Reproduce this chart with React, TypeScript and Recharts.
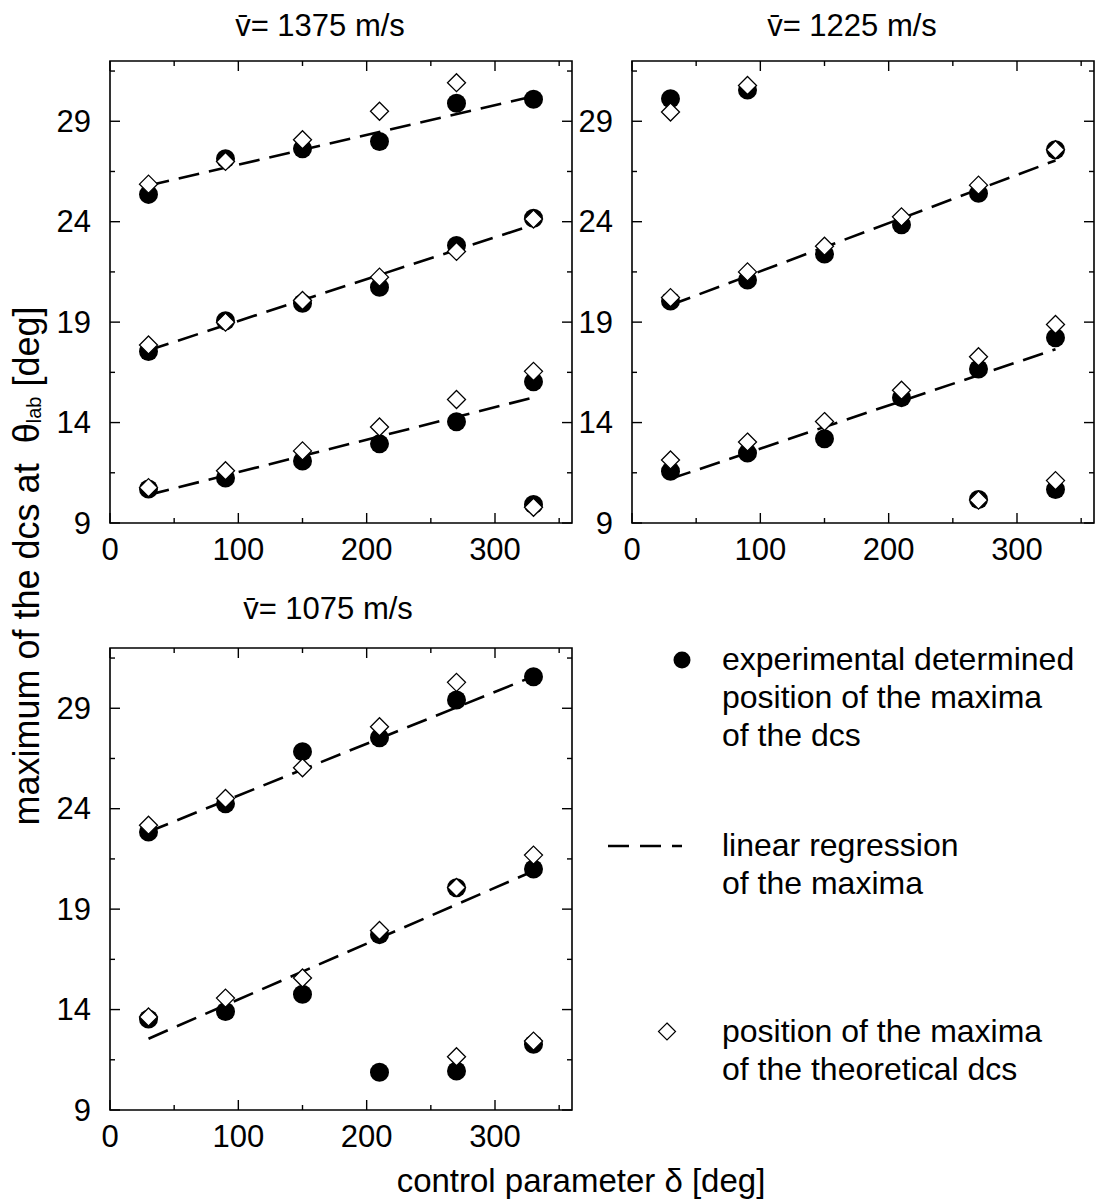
import React from "react";
import { ComposedChart, XAxis, YAxis, Scatter, Line, ReferenceArea } from "recharts";

// x positions of the measurements (control parameter delta, deg)
const delta = [30, 90, 150, 210, 270, 330];
const regDelta = [30, 330];

const xTicks = [0, 50, 100, 150, 200, 250, 300, 350];
const xMajor = [0, 100, 200, 300];
const yTicks = [9, 11.5, 14, 16.5, 19, 21.5, 24, 26.5, 29, 31.5];
const yMajor = [9, 14, 19, 24, 29];

// v = 1375 m/s
const exp1375a = [25.36, 27.13, 27.63, 27.99, 29.9, 30.1];
const theo1375a = [25.87, 27.0, 28.08, 29.5, 30.92, null];
const exp1375b = [17.54, 19.07, 19.94, 20.74, 22.82, 24.17];
const theo1375b = [17.86, 19.0, 20.08, 21.24, 22.52, 24.13];
const exp1375c = [10.69, 11.24, 12.09, 12.94, 14.04, 16.03];
const theo1375c = [10.76, 11.6, 12.59, 13.78, 15.15, 16.55];
const delta1375d = [330];
const exp1375d = [9.92];
const theo1375d = [9.78];
const reg1375 = [[25.8, 30.24], [17.6, 23.85], [10.4, 15.25]];

// v = 1225 m/s
const delta1225a = [30, 90];
const exp1225a = [30.12, 30.56];
const theo1225a = [29.46, 30.78];
const exp1225b = [20.05, 21.1, 22.39, 23.85, 25.41, 27.58];
const theo1225b = [20.22, 21.5, 22.78, 24.24, 25.82, 27.58];
const exp1225c = [11.58, 12.48, 13.19, 15.24, 16.67, 18.22];
const theo1225c = [12.14, 13.03, 14.05, 15.61, 17.28, 18.88];
const delta1225d = [270, 330];
const exp1225d = [10.17, 10.67];
const theo1225d = [10.14, 11.11];
const reg1225 = [[19.85, 27.05], [11.2, 17.65]];

// v = 1075 m/s
const exp1075a = [22.84, 24.24, 26.84, 27.53, 29.41, 30.57];
const theo1075a = [23.18, 24.51, 26.04, 28.08, 30.29, null];
const exp1075b = [13.53, 13.9, 14.76, 17.73, 20.06, 21.0];
const theo1075b = [13.63, 14.57, 15.57, 17.94, 20.08, 21.69];
const delta1075c = [210, 270, 330];
const exp1075c = [10.88, 10.94, 12.27];
const theo1075c = [null, 11.65, 12.43];
const reg1075 = [[22.85, 30.59], [12.55, 20.9]];

const FONT = '"Liberation Sans", Arial, Helvetica, sans-serif';
const PW = 462;
const PH = 462;

type Pt = { x: number; y: number };

const pts = (xs: number[], ys: (number | null)[]): Pt[] =>
  xs.flatMap((x, i) => (ys[i] == null ? [] : [{ x, y: ys[i] as number }]));

const XTick = (p: any) => {
  const v = p.payload.value;
  const len = xMajor.includes(v) ? 10 : 5;
  return (
    <g>
      <line x1={p.x} y1={p.y} x2={p.x} y2={p.y - len} stroke="#000" strokeWidth={1.4} />
      <line x1={p.x} y1={p.y - PH} x2={p.x} y2={p.y - PH + len} stroke="#000" strokeWidth={1.4} />
      {xMajor.includes(v) && (
        <text x={p.x} y={p.y + 26} textAnchor="middle" dominantBaseline="central" fontSize={31} fontFamily={FONT} fill="#000">
          {v}
        </text>
      )}
    </g>
  );
};

const YTick = (p: any) => {
  const v = p.payload.value;
  const len = yMajor.includes(v) ? 10 : 5;
  return (
    <g>
      <line x1={p.x} y1={p.y} x2={p.x + len} y2={p.y} stroke="#000" strokeWidth={1.4} />
      <line x1={p.x + PW} y1={p.y} x2={p.x + PW - len} y2={p.y} stroke="#000" strokeWidth={1.4} />
      {yMajor.includes(v) && (
        <text x={p.x - 19} y={p.y} textAnchor="end" dominantBaseline="central" fontSize={31} fontFamily={FONT} fill="#000">
          {v}
        </text>
      )}
    </g>
  );
};

const Dot = (p: any) => <circle cx={p.cx} cy={p.cy} r={9.5} fill="#000" />;
const Diamond = (p: any) => (
  <path
    d={`M${p.cx},${p.cy - 9}L${p.cx + 9},${p.cy}L${p.cx},${p.cy + 9}L${p.cx - 9},${p.cy}Z`}
    fill="#fff"
    stroke="#000"
    strokeWidth={1.3}
  />
);

function Panel({ left, top, exp, theo, reg }: { left: number; top: number; exp: Pt[]; theo: Pt[]; reg: number[][] }) {
  return (
    <div style={{ position: "absolute", left: left - 80, top: top - 10 }}>
      <ComposedChart width={80 + PW + 20} height={10 + PH + 50} margin={{ top: 10, right: 20, bottom: 0, left: 0 }}>
        <XAxis
          type="number"
          dataKey="x"
          domain={[0, 360]}
          ticks={xTicks}
          interval={0}
          tick={XTick}
          tickLine={false}
          axisLine={false}
          tickSize={0}
          tickMargin={0}
          height={50}
          allowDataOverflow
        />
        <YAxis
          type="number"
          dataKey="y"
          domain={[9, 32]}
          ticks={yTicks}
          interval={0}
          tick={YTick}
          tickLine={false}
          axisLine={false}
          tickSize={0}
          tickMargin={0}
          width={80}
          allowDataOverflow
        />
        <ReferenceArea x1={0} x2={360} y1={9} y2={32} fill="none" stroke="#000" strokeWidth={1.6} ifOverflow="visible" />
        {reg.map((r, i) => (
          <Line
            key={i}
            data={pts(regDelta, r)}
            dataKey="y"
            stroke="#000"
            strokeWidth={2.6}
            strokeDasharray="21 10"
            dot={false}
            activeDot={false}
            isAnimationActive={false}
          />
        ))}
        <Scatter data={exp} shape={Dot} isAnimationActive={false} />
        <Scatter data={theo} shape={Diamond} isAnimationActive={false} />
      </ComposedChart>
    </div>
  );
}

export default function App() {
  const exp1375 = [...pts(delta, exp1375a), ...pts(delta, exp1375b), ...pts(delta, exp1375c), ...pts(delta1375d, exp1375d)];
  const theo1375 = [...pts(delta, theo1375a), ...pts(delta, theo1375b), ...pts(delta, theo1375c), ...pts(delta1375d, theo1375d)];
  const exp1225 = [...pts(delta1225a, exp1225a), ...pts(delta, exp1225b), ...pts(delta, exp1225c), ...pts(delta1225d, exp1225d)];
  const theo1225 = [...pts(delta1225a, theo1225a), ...pts(delta, theo1225b), ...pts(delta, theo1225c), ...pts(delta1225d, theo1225d)];
  const exp1075 = [...pts(delta, exp1075a), ...pts(delta, exp1075b), ...pts(delta1075c, exp1075c)];
  const theo1075 = [...pts(delta, theo1075a), ...pts(delta, theo1075b), ...pts(delta1075c, theo1075c)];

  const txt = { fontSize: 31, fontFamily: FONT, fill: "#000" };
  const legTxt = { fontSize: 32, fontFamily: FONT, fill: "#000" };
  const axisTxt = { fontSize: 33, fontFamily: FONT, fill: "#000" };

  return (
    <div style={{ position: "absolute", left: 0, top: 0, width: 1096, height: 1202, background: "#fff" }}>
      <Panel left={110} top={61} exp={exp1375} theo={theo1375} reg={reg1375} />
      <Panel left={632} top={61} exp={exp1225} theo={theo1225} reg={reg1225} />
      <Panel left={110} top={648} exp={exp1075} theo={theo1075} reg={reg1075} />

      <svg width={1096} height={1202} style={{ position: "absolute", left: 0, top: 0, pointerEvents: "none" }}>
        {/* panel titles */}
        <text x={320} y={25} textAnchor="middle" dominantBaseline="central" {...txt}>{"v\u0304= 1375 m/s"}</text>
        <text x={852} y={25} textAnchor="middle" dominantBaseline="central" {...txt}>{"v\u0304= 1225 m/s"}</text>
        <text x={328} y={608} textAnchor="middle" dominantBaseline="central" {...txt}>{"v\u0304= 1075 m/s"}</text>

        {/* axis titles */}
        <text x={581} y={1180} textAnchor="middle" dominantBaseline="central" {...axisTxt}>control parameter δ [deg]</text>
        <text
          transform="translate(26,566) rotate(-90)"
          textAnchor="middle"
          dominantBaseline="central"
          fontSize={36}
          fontFamily={FONT}
          fill="#000"
        >
          maximum of the dcs at{"\u00a0\u00a0"}θ<tspan fontSize={20} dy={8}>lab</tspan><tspan dy={-8}> [deg]</tspan>
        </text>

        {/* legend */}
        <circle cx={682} cy={660} r={8.5} fill="#000" />
        <text x={722} y={659} dominantBaseline="central" {...legTxt}>experimental determined</text>
        <text x={722} y={697} dominantBaseline="central" {...legTxt}>position of the maxima</text>
        <text x={722} y={735} dominantBaseline="central" {...legTxt}>of the dcs</text>

        <line x1={608} y1={846} x2={682} y2={846} stroke="#000" strokeWidth={2.6} strokeDasharray="21 11" />
        <text x={722} y={845} dominantBaseline="central" {...legTxt}>linear regression</text>
        <text x={722} y={883} dominantBaseline="central" {...legTxt}>of the maxima</text>

        <path d="M667,1023L675.5,1031.5L667,1040L658.5,1031.5Z" fill="#fff" stroke="#000" strokeWidth={1.2} />
        <text x={722} y={1031} dominantBaseline="central" {...legTxt}>position of the maxima</text>
        <text x={722} y={1069} dominantBaseline="central" {...legTxt}>of the theoretical dcs</text>
      </svg>
    </div>
  );
}
